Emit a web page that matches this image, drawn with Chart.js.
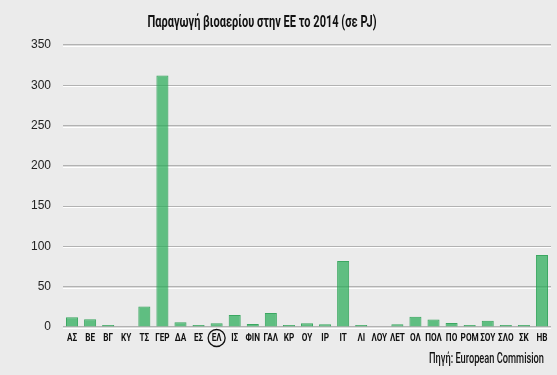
<!DOCTYPE html>
<html>
<head>
<meta charset="utf-8">
<script src="https://cdn.jsdelivr.net/npm/chart.js@4"></script>
<style>
  html, body { margin: 0; padding: 0; background: #ebebeb; }
  #wrap { width: 557px; height: 375px; position: relative; }
</style>
</head>
<body>
<div id="wrap"><canvas id="myChart" width="557" height="375"></canvas></div>
<script>
const titlos = 'Παραγωγή βιοαερίου στην ΕΕ το 2014 (σε PJ)'
const pigi = 'Πηγή: European Commision'

const xores = ['ΑΣ', 'ΒΕ', 'ΒΓ', 'ΚΥ', 'ΤΣ', 'ΓΕΡ', 'ΔΑ', 'ΕΣ', 'ΕΛ', 'ΙΣ', 'ΦΙΝ', 'ΓΑΛ', 'ΚΡ', 'ΟΥ',
               'ΙΡ', 'ΙΤ', 'ΛΙ', 'ΛΟΥ', 'ΛΕΤ', 'ΟΛ', 'ΠΟΛ', 'ΠΟ', 'ΡΟΜ', 'ΣΟΥ', 'ΣΛΟ', 'ΣΚ', 'ΗΒ']
const paragogi = [12, 9.5, 2.5, 0, 25.5, 312, 6, 2.5, 4.5, 15, 3.7, 17.3, 2.5, 4.5,
                  3.3, 82, 2.5, 0, 3.3, 12.8, 9.4, 4.9, 2.5, 7.8, 2.5, 2.5, 89.5]
const kyklos = 'ΕΛ'
const yTicks = [0, 50, 100, 150, 200, 250, 300, 350]

// δεν υπάρχει condensed γραμματοσειρά, οπότε στενεύουμε το κείμενο με scale
const stenoKeimeno = (ctx, text, x, y, font, sx, align) => {
    ctx.save()
    ctx.font = font
    ctx.textBaseline = 'middle'
    ctx.textAlign = align
    ctx.translate(x, y)
    ctx.scale(sx, 1)
    ctx.fillText(text, 0, 0)
    ctx.restore()
}

const platos = (ctx, text, font) => {
    ctx.save()
    ctx.font = font
    const w = ctx.measureText(text).width
    ctx.restore()
    return w
}

const extras = {
    id: 'extras',
    beforeDatasetsDraw(chart) {
        const ctx = chart.ctx
        const y = chart.scales.y
        const area = chart.chartArea
        ctx.save()
        ctx.strokeStyle = '#ffffff'
        ctx.lineWidth = 1
        yTicks.forEach(v => {
            const py = Math.round(y.getPixelForValue(v)) + 1.5
            ctx.beginPath()
            ctx.moveTo(area.left, py)
            ctx.lineTo(area.right, py)
            ctx.stroke()
        })
        ctx.restore()
    },
    afterDraw(chart) {
        const ctx = chart.ctx
        const x = chart.scales.x
        const area = chart.chartArea
        ctx.fillStyle = '#111'

        const fontX = 'bold 10.5px Roboto, sans-serif'
        xores.forEach((lab, i) => {
            stenoKeimeno(ctx, lab, x.getPixelForValue(i), area.bottom + 11, fontX, 0.78, 'center')
        })

        ctx.save()
        const i = xores.indexOf(kyklos)
        ctx.strokeStyle = '#111'
        ctx.lineWidth = 1.3
        ctx.beginPath()
        ctx.arc(x.getPixelForValue(i), area.bottom + 11, 8.5, 0, Math.PI * 2)
        ctx.stroke()
        ctx.restore()

        const fontT = 'bold 16px Roboto, sans-serif'
        stenoKeimeno(ctx, titlos, 262, 23, fontT, 229 / platos(ctx, titlos, fontT), 'center')
        const fontP = '500 14px Roboto, sans-serif'
        stenoKeimeno(ctx, pigi, 544, 359, fontP, 115 / platos(ctx, pigi, fontP), 'right')
    }
}

const ctx = document.getElementById('myChart')
const myChart = new Chart(ctx, {
    type: 'bar',
    data: {
        labels: xores,
        datasets: [{
            label: 'PJ',
            data: paragogi,
            backgroundColor: 'rgba(40, 172, 88, 0.72)',
            borderColor: 'rgba(40, 160, 82, 0.9)',
            borderWidth: 1,
            barPercentage: 0.667,
            categoryPercentage: 1
        }]
    },
    options: {
        responsive: false,
        animation: false,
        devicePixelRatio: 1,
        layout: { padding: { top: 45, right: 6, left: 0, bottom: 0 } },
        plugins: {
            legend: { display: false },
            tooltip: { enabled: false },
            title: { display: false }
        },
        scales: {
            y: {
                min: 0,
                max: 350,
                afterFit(s) { s.width = 63 },
                afterBuildTicks(s) { s.ticks = yTicks.map(v => ({ value: v })) },
                border: { display: false },
                grid: { color: '#b2b2b2', lineWidth: 1.2, drawTicks: false },
                ticks: {
                    padding: 12,
                    color: '#222',
                    font: { family: '"Liberation Sans", Arial, sans-serif', size: 12 }
                }
            },
            x: {
                afterFit(s) { s.height = 48 },
                border: { display: false },
                grid: { display: false, drawTicks: false },
                ticks: { display: false }
            }
        }
    },
    plugins: [extras]
})
</script>
</body>
</html>
